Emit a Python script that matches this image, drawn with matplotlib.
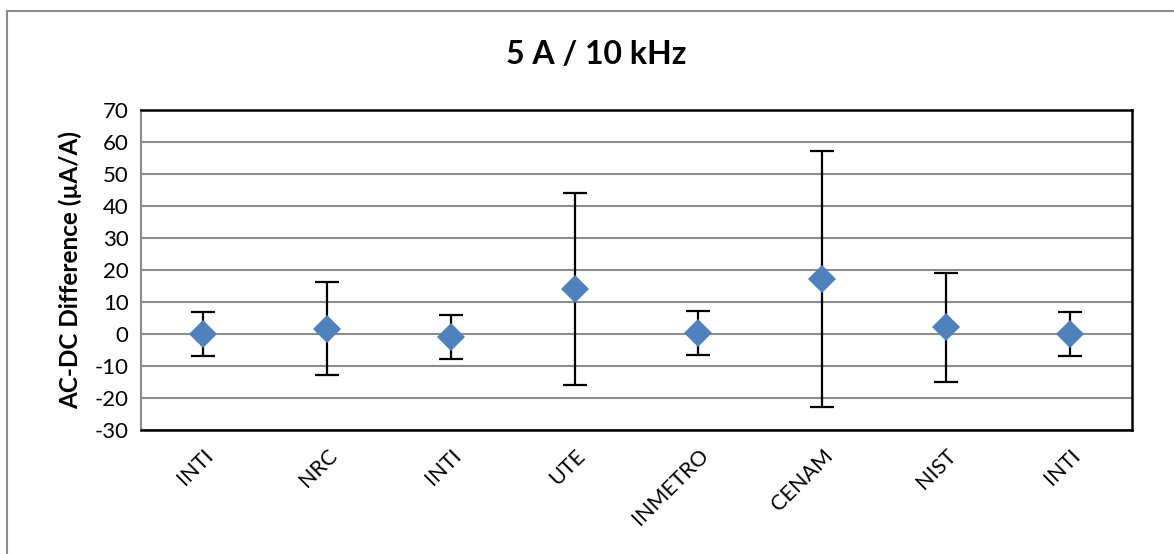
import matplotlib
matplotlib.use("Agg")
import matplotlib.pyplot as plt
import matplotlib.transforms as mtransforms
from matplotlib.patches import Rectangle
import numpy as np

categories = ["INTI", "NRC", "INTI", "UTE", "INMETRO", "CENAM", "NIST", "INTI"]
values = [0.0, 1.7, -1.0, 14.1, 0.3, 17.1, 2.1, 0.0]
uncert = [7.0, 14.6, 6.9, 30.0, 6.9, 40.0, 17.0, 7.0]
yticks = [-30, -20, -10, 0, 10, 20, 30, 40, 50, 60, 70]
title = "5 A / 10 kHz"
ylabel = "AC-DC Difference (µA/A)"

plt.rcParams['font.family'] = ['Lato', 'DejaVu Sans']

W, H = 1174, 554
fig = plt.figure(figsize=(W / 100, H / 100), dpi=100)
fig.patch.set_facecolor("white")

# outer chart border
fig.patches.append(Rectangle((7 / W, -0.1), 1.2, 1 - 11 / H + 0.1,
                             transform=fig.transFigure, fill=False,
                             edgecolor="#8c8c8c", linewidth=1.5, zorder=0))

ax = fig.add_axes([141 / W, 1 - 430 / H, (1132 - 141) / W, (430 - 110) / H])
x = np.arange(len(categories))
ax.errorbar(x, values, yerr=uncert, fmt="none", ecolor="black",
            elinewidth=1.6, capsize=8.5, capthick=1.6, zorder=3)
ax.plot(x, values, linestyle="none", marker="D", color="#4F81BD",
        markersize=14, markeredgewidth=0, zorder=4)

ax.set_xlim(-0.5, len(categories) - 0.5)
ax.set_ylim(-30, 70)
ax.set_yticks(yticks)
ax.set_yticklabels([str(t) for t in yticks], fontsize=16)
ax.yaxis.grid(True, color="#8c8c8c", linewidth=1.5)
ax.set_axisbelow(True)
ax.tick_params(axis="both", length=0, pad=9)

ax.set_xticks(x)
offset = mtransforms.ScaledTranslation(14 / 100, 0, fig.dpi_scale_trans)
labels = ax.set_xticklabels(categories, rotation=45, ha="right",
                            rotation_mode="anchor", fontsize=15.5)
for lab in labels:
    lab.set_transform(lab.get_transform() + offset)
ax.tick_params(axis="x", pad=11)

for side in ["top", "right", "bottom"]:
    ax.spines[side].set_color("black")
    ax.spines[side].set_linewidth(1.8)
ax.spines["left"].set_color("#8c8c8c")
ax.spines["left"].set_linewidth(1.5)

ax.set_ylabel(ylabel, fontsize=17.5, fontweight="bold", labelpad=9)
fig.text(596 / W, 1 - 55 / H, title, ha="center", va="center",
         fontsize=23, fontweight="bold")

fig.savefig("out.png", dpi=100)
